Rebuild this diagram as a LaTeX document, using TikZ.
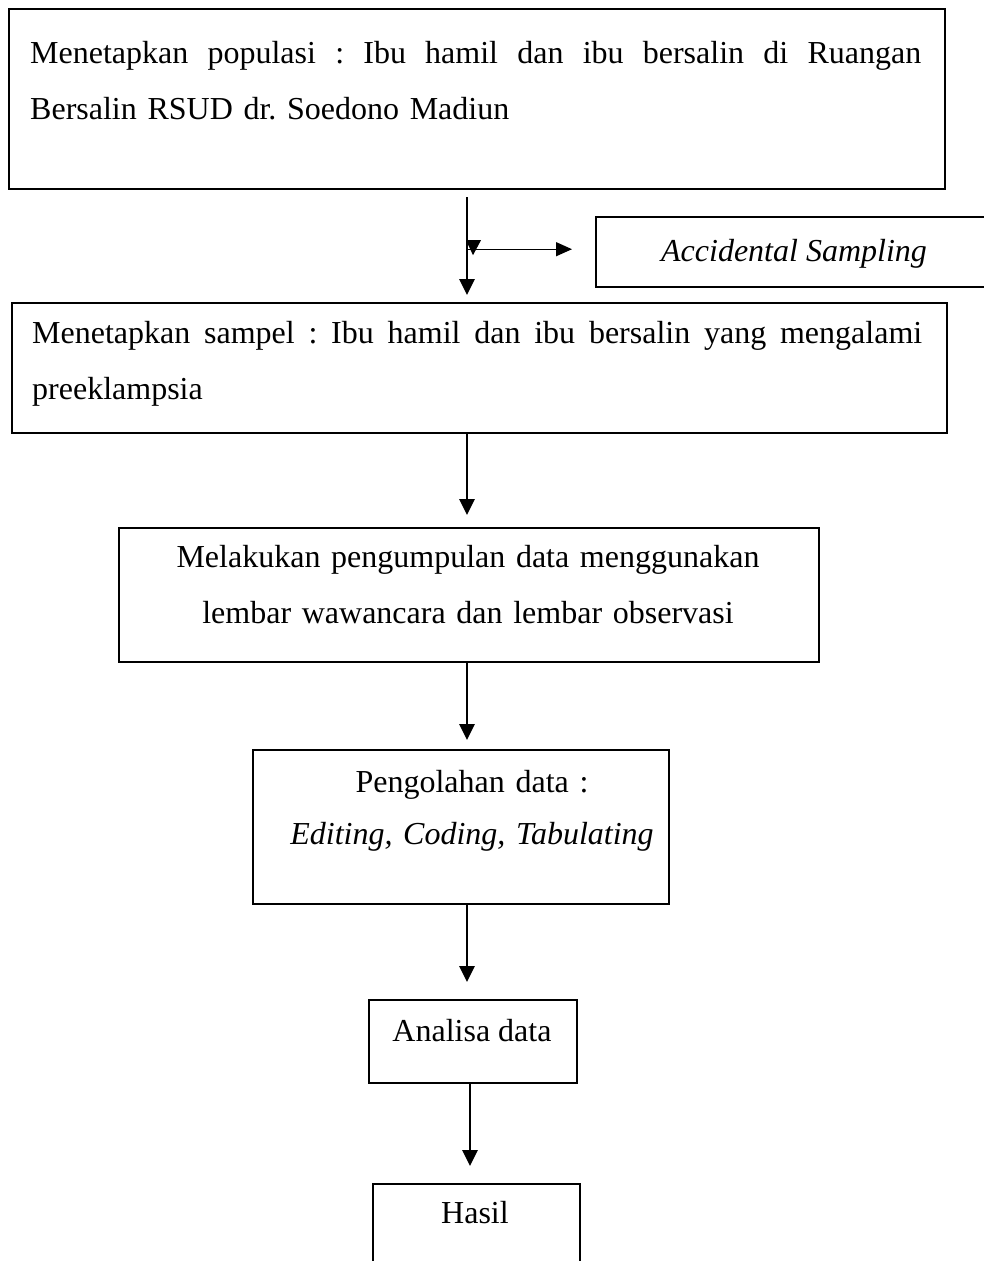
\documentclass[tikz,border=0pt]{standalone}
\usepackage{fontspec}
\setmainfont{Liberation Serif}
\usetikzlibrary{arrows.meta,calc}
\newcommand{\justline}[2]{\hbox to #1{\spaceskip=8pt plus 1fil\xspaceskip=8pt plus 1fil #2}}
\begin{document}
\frenchspacing
\begin{tikzpicture}[x=1pt,y=-1pt,
  box/.style={draw, line width=2.2pt, inner sep=0pt, anchor=north west},
  txt/.style={inner sep=0pt, font=\fontsize{32}{56}\selectfont},
  arr/.style={line width=2.8pt, -{Triangle[width=15pt,length=16pt]}},
  thinarr/.style={line width=1.3pt, -{Triangle[width=14pt,length=16pt]}}]
\useasboundingbox (0,0) rectangle (983,1261);
\coordinate (colx) at (467,0);
\coordinate (coly) at (470,0);
% boxes
\node[box, minimum width=936pt, minimum height=180pt] (b1) at (8,8) {};
\node[box, minimum width=400pt, minimum height=70pt] (acc) at (595,216) {};
\node[box, minimum width=935pt, minimum height=130pt] (b2) at (11,302) {};
\node[box, minimum width=700pt, minimum height=134pt] (b3) at (118,527) {};
\node[box, minimum width=416pt, minimum height=154pt] (b4) at (252,749) {};
\node[box, minimum width=208pt, minimum height=83pt] (b5) at (368,999) {};
\node[box, minimum width=207pt, minimum height=120pt] (b6) at (372,1183) {};
% texts
\node[txt, anchor=base west, text width=891pt, align=left] (t1) at (30,63)
  {\justline{891pt}{Menetapkan populasi : Ibu hamil dan ibu bersalin di Ruangan}\\Bersalin RSUD dr. Soedono Madiun};
\node[txt, anchor=base, font=\fontsize{32}{56}\selectfont\itshape] (tacc) at (794,261) {Accidental Sampling};
\node[txt, anchor=base west, text width=890pt, align=left] (t2) at (32,343)
  {\justline{890pt}{Menetapkan sampel : Ibu hamil dan ibu bersalin yang mengalami}\\preeklampsia};
\node[txt, anchor=base, text width=680pt, align=center] (t3) at (468,567)
  {Melakukan pengumpulan data menggunakan\\lembar wawancara dan lembar observasi};
\node[txt, anchor=base, text width=400pt, align=center] (t4) at (472,792)
  {Pengolahan data :\\[-4pt]\textit{Editing, Coding, Tabulating}};
\node[txt, anchor=base] (t5) at (472,1041) {Analisa data};
\node[txt, anchor=base] (t6) at (475,1223) {Hasil};
% connectors
\draw[arr] ($(b1.south -| colx)+(0,7)$) -- ($(b2.north -| colx)+(0,-7)$);
\coordinate (jn) at ($(b1.south -| colx)+(0,59)$);
\draw[thinarr] (jn) -- ($(jn -| acc.west)+(-23,0)$);
\fill ($(jn)+(-1,-9)$) -- ++(15,0) -- ++(-8,15) -- cycle;
\draw[arr] (b2.south -| colx) -- ($(b3.north -| colx)+(0,-12)$);
\draw[arr] (b3.south -| colx) -- ($(b4.north -| colx)+(0,-9)$);
\draw[arr] (b4.south -| colx) -- ($(b5.north -| colx)+(0,-17)$);
\draw[arr] (b5.south -| coly) -- ($(b6.north -| coly)+(0,-17)$);
\end{tikzpicture}
\end{document}
